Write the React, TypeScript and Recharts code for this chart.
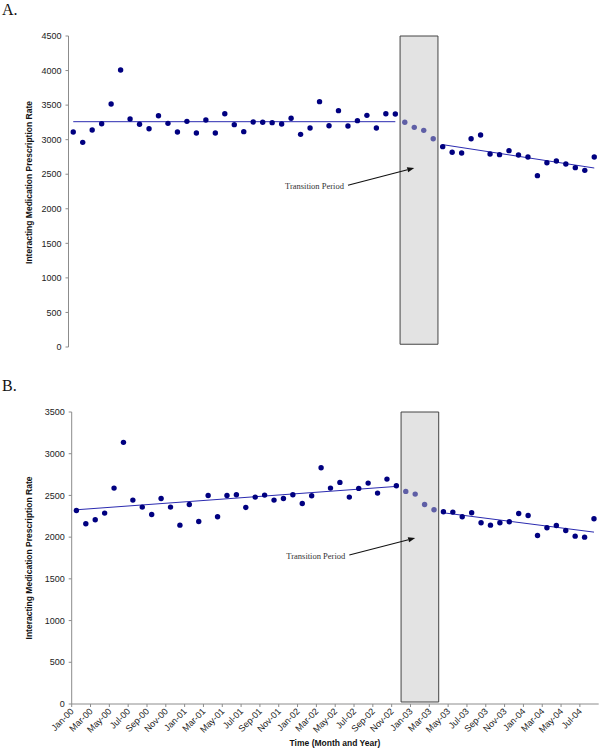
import React from 'react';
import {
    ComposedChart,
    Line,
    XAxis,
    YAxis,
    ReferenceArea,
    ReferenceLine
} from 'recharts';

// Months on the x axis, Jan 2000 to Aug 2004
const months = [
    'Jan-00', 'Feb-00', 'Mar-00', 'Apr-00', 'May-00', 'Jun-00', 'Jul-00', 'Aug-00', 'Sep-00', 'Oct-00', 'Nov-00', 'Dec-00',
    'Jan-01', 'Feb-01', 'Mar-01', 'Apr-01', 'May-01', 'Jun-01', 'Jul-01', 'Aug-01', 'Sep-01', 'Oct-01', 'Nov-01', 'Dec-01',
    'Jan-02', 'Feb-02', 'Mar-02', 'Apr-02', 'May-02', 'Jun-02', 'Jul-02', 'Aug-02', 'Sep-02', 'Oct-02', 'Nov-02', 'Dec-02',
    'Jan-03', 'Feb-03', 'Mar-03', 'Apr-03', 'May-03', 'Jun-03', 'Jul-03', 'Aug-03', 'Sep-03', 'Oct-03', 'Nov-03', 'Dec-03',
    'Jan-04', 'Feb-04', 'Mar-04', 'Apr-04', 'May-04', 'Jun-04', 'Jul-04', 'Aug-04'
];

const transitionMonths = ['Dec-02', 'Jan-03', 'Feb-03', 'Mar-03'];

// Panel A rates
const ratesA = [
    3111, 2961, 3140, 3231, 3516, 4008, 3299, 3222, 3159, 3347, 3236, 3111,
    3265, 3096, 3285, 3096, 3376, 3217, 3116, 3256, 3251, 3246, 3227, 3309,
    3077, 3169, 3550, 3202, 3420, 3198, 3275, 3352, 3169, 3376, 3371, 3251,
    3178, 3135, 3014, 2899, 2817, 2807, 3014, 3067, 2793, 2783, 2841, 2778,
    2749, 2479, 2667, 2691, 2648, 2595, 2556, 2749
];

// Panel B rates
const ratesB = [
    2320, 2160, 2208, 2288, 2588, 3136, 2444, 2360, 2272, 2464, 2360, 2144,
    2392, 2188, 2500, 2244, 2500, 2508, 2356, 2480, 2504, 2444, 2464, 2508,
    2404, 2496, 2832, 2588, 2656, 2480, 2584, 2648, 2528, 2696, 2616, 2548,
    2516, 2392, 2328, 2304, 2300, 2244, 2292, 2172, 2144, 2172, 2184, 2284,
    2260, 2020, 2112, 2140, 2080, 2012, 2000, 2220
];

// Fitted trend lines, before and after the transition (end values)
const trendsA = [
    { from: 'Jan-00', to: 'Nov-02', start: 3260, end: 3260 },
    { from: 'Apr-03', to: 'Aug-04', start: 2928, end: 2590 }
];
const trendsB = [
    { from: 'Jan-00', to: 'Nov-02', start: 2328, end: 2608 },
    { from: 'Apr-03', to: 'Aug-04', start: 2292, end: 2060 }
];

// Arrow pointing at the transition box
const arrowA = { from: 'Jun-02', to: 'Jan-03', start: 2340, end: 2590 };
const arrowB = { from: 'Jun-02', to: 'Jan-03', start: 1786, end: 1990 };

const ticksA = [0, 500, 1000, 1500, 2000, 2500, 3000, 3500, 4000, 4500];
const ticksB = [0, 500, 1000, 1500, 2000, 2500, 3000, 3500];

const SANS = '"Liberation Sans", Arial, sans-serif';
const SERIF = '"Liberation Serif", "Times New Roman", serif';
const AXIS = '#8c8c8c';
const NAVY = '#000080';
const TRANS = '#5f5fa6';
const TREND = '#2b2bb0';

const buildRows = (rates: number[]) =>
    months.map((m, i) => ({
        month: m,
        observed: transitionMonths.includes(m) ? null : rates[i],
        transition: transitionMonths.includes(m) ? rates[i] : null
    }));

const ArrowNote = (props: any) => {
    const { x1, y1, x2, y2 } = props;
    const ang = Math.atan2(y2 - y1, x2 - x1);
    const len = 7;
    const w = 2.6;
    const bx = x2 - len * Math.cos(ang);
    const by = y2 - len * Math.sin(ang);
    const pts = `${x2},${y2} ${bx - w * Math.sin(ang)},${by + w * Math.cos(ang)} ${bx + w * Math.sin(ang)},${by - w * Math.cos(ang)}`;
    return (
        <g>
            <line x1={x1} y1={y1} x2={bx} y2={by} stroke="#111" strokeWidth={1.2} />
            <polygon points={pts} fill="#111" />
            <text x={x1 - 4} y={y1 + 4} textAnchor="end" fontSize={8.5} fontFamily={SERIF} fill="#333">
                Transition Period
            </text>
        </g>
    );
};

interface PanelProps {
    rates: number[];
    trends: { from: string; to: string; start: number; end: number }[];
    arrow: { from: string; to: string; start: number; end: number };
    ticks: number[];
    yMax: number;
    yWidth: number;
    height: number;
    margin: { top: number; right: number; bottom: number; left: number };
    boxBottom: number;
    showMonths: boolean;
}

const Panel: React.FC<PanelProps> = ({
    rates, trends, arrow, ticks, yMax, yWidth, height, margin, boxBottom, showMonths
}) => {
    const data = buildRows(rates);
    const band = (602 - margin.left - margin.right - yWidth) / months.length;

    const MonthTick = (props: any) => {
        const { x, y, payload } = props;
        return (
            <g>
                <line x1={x - band / 2} x2={x - band / 2} y1={y} y2={y + 3} stroke={AXIS} />
                <text
                    transform={`translate(${x - 2},${y + 8}) rotate(-45)`}
                    textAnchor="end"
                    fontSize={9}
                    fontFamily={SANS}
                    fill="#222"
                >
                    {payload.value}
                </text>
            </g>
        );
    };

    return (
        <ComposedChart width={602} height={height} data={data} margin={margin}>
            <XAxis
                dataKey="month"
                scale="band"
                interval={1}
                height={showMonths ? 46 : 0}
                tickSize={0}
                tickMargin={0}
                tickLine={false}
                tick={showMonths ? <MonthTick /> : false}
                axisLine={{ stroke: AXIS }}
            />
            <YAxis
                domain={[0, yMax]}
                ticks={ticks}
                width={yWidth}
                tickSize={3}
                tickMargin={4}
                axisLine={{ stroke: AXIS }}
                tickLine={{ stroke: AXIS }}
                tick={{ fontSize: 9, fill: '#222', fontFamily: SANS }}
            />
            <ReferenceArea
                x1={months[0]}
                x2={months[months.length - 1]}
                y1={0}
                y2={yMax}
                fill="none"
                stroke="#ababab"
            />
            <ReferenceArea
                x1={transitionMonths[0]}
                x2={transitionMonths[transitionMonths.length - 1]}
                y1={boxBottom}
                y2={yMax}
                fill="#e3e3e3"
                fillOpacity={1}
                stroke="#444"
                strokeWidth={1}
            />
            {trends.map((t, i) => (
                <ReferenceLine
                    key={`trend-${i}`}
                    segment={[{ x: t.from, y: t.start }, { x: t.to, y: t.end }]}
                    stroke={TREND}
                    strokeWidth={1}
                />
            ))}
            <ReferenceLine
                segment={[{ x: arrow.from, y: arrow.start }, { x: arrow.to, y: arrow.end }]}
                shape={ArrowNote}
            />
            <Line
                dataKey="observed"
                stroke="none"
                dot={{ r: 2.7, fill: NAVY, stroke: 'none' }}
                activeDot={false}
                isAnimationActive={false}
            />
            <Line
                dataKey="transition"
                stroke="none"
                dot={{ r: 2.7, fill: TRANS, stroke: 'none' }}
                activeDot={false}
                isAnimationActive={false}
            />
        </ComposedChart>
    );
};

const YTitle = ({ x, y }: { x: number; y: number }) => (
    <text
        transform={`translate(${x},${y}) rotate(-90)`}
        textAnchor="middle"
        dominantBaseline="central"
        fontSize={8.5}
        fontWeight="bold"
        fontFamily={SANS}
        fill="#111"
    >
        Interacting Medication Prescription Rate
    </text>
);

export default function App() {
    return (
        <div style={{ position: 'absolute', left: 0, top: 0, width: 602, height: 750, background: '#fff' }}>
            <div style={{ position: 'absolute', left: 0, top: 0 }}>
                <Panel
                    rates={ratesA}
                    trends={trendsA}
                    arrow={arrowA}
                    ticks={ticksA}
                    yMax={4500}
                    yWidth={68.5}
                    height={360}
                    margin={{ top: 36, right: 3, bottom: 13, left: 0 }}
                    boxBottom={40}
                    showMonths={false}
                />
            </div>
            <div style={{ position: 'absolute', left: 0, top: 375 }}>
                <Panel
                    rates={ratesB}
                    trends={trendsB}
                    arrow={arrowB}
                    ticks={ticksB}
                    yMax={3500}
                    yWidth={71.7}
                    height={375}
                    margin={{ top: 37, right: 3.3, bottom: 0, left: 0 }}
                    boxBottom={24}
                    showMonths={true}
                />
            </div>
            <svg
                width={602}
                height={750}
                style={{ position: 'absolute', left: 0, top: 0, pointerEvents: 'none' }}
            >
                <text x={2} y={15} fontSize={16} fontFamily={SERIF} fill="#111">A.</text>
                <text x={2} y={391} fontSize={16} fontFamily={SERIF} fill="#111">B.</text>
                <YTitle x={29.3} y={182.5} />
                <YTitle x={29.3} y={558} />
                <text
                    x={335}
                    y={746}
                    textAnchor="middle"
                    fontSize={8.5}
                    fontWeight="bold"
                    fontFamily={SANS}
                    fill="#111"
                >
                    Time (Month and Year)
                </text>
            </svg>
        </div>
    );
}
